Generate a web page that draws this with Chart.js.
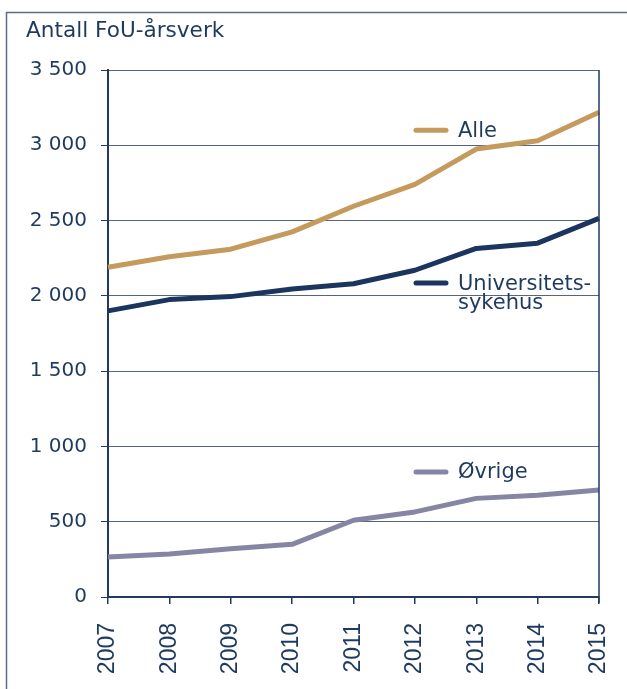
<!DOCTYPE html>
<html>
<head>
<meta charset="utf-8">
<script src="https://cdn.jsdelivr.net/npm/chart.js@4/dist/chart.umd.min.js"></script>
<style>
  html, body { margin: 0; padding: 0; background: #ffffff; }
  #wrap { width: 627px; height: 689px; position: relative; }
</style>
</head>
<body>
<div id="wrap"><canvas id="c" width="627" height="689"></canvas></div>
<script>
// FoU-årsverk per year
const years = ['2007', '2008', '2009', '2010', '2011', '2012', '2013', '2014', '2015'];
const alle = [2190, 2260, 2310, 2425, 2595, 2740, 2975, 3030, 3220];
const universitetssykehus = [1900, 1975, 1995, 2045, 2080, 2170, 2315, 2350, 2515];
const ovrige = [265, 285, 320, 350, 510, 565, 655, 675, 710];
const yTicks = [0, 500, 1000, 1500, 2000, 2500, 3000, 3500];

const TEXT = '#1f3a5f';
const AXIS = '#213a5e';
const GRID = '#56657f';
const C_ALLE = '#c49a5d';
const C_UNI = '#1c355e';
const C_OVR = '#8686a4';

// inline series labels: [lines of text, colour, value level on the y axis]
const seriesLabels = [
  [['Alle'], C_ALLE, 3100],
  [['Universitets-', 'sykehus'], C_UNI, 2085],
  [['Øvrige'], C_OVR, 830]
];

function fmt(v) {
  const s = String(v);
  return s.length > 3 ? s.slice(0, s.length - 3) + ' ' + s.slice(-3) : s;
}

const decor = {
  id: 'decor',
  beforeDraw(chart) {
    const ctx = chart.ctx;
    ctx.save();
    ctx.fillStyle = '#ffffff';
    ctx.fillRect(0, 0, chart.width, chart.height);
    // outer frame
    ctx.strokeStyle = '#5d6b84';
    ctx.lineWidth = 1.5;
    ctx.strokeRect(6.5, 12.5, 800, 800);
    // axis title
    ctx.fillStyle = TEXT;
    ctx.font = '21.6px "DejaVu Sans"';
    ctx.textBaseline = 'alphabetic';
    ctx.textAlign = 'left';
    ctx.fillText('Antall FoU-årsverk', 26, 37);
    ctx.restore();
  },
  afterDatasetsDraw(chart) {
    const ctx = chart.ctx;
    const a = chart.chartArea;
    const y = chart.scales.y;
    ctx.save();
    // right edge of the plot
    ctx.strokeStyle = AXIS;
    ctx.lineWidth = 1.5;
    ctx.beginPath();
    ctx.moveTo(a.right, a.top);
    ctx.lineTo(a.right, a.bottom + 6);
    ctx.stroke();
    // series labels
    ctx.font = '21px "DejaVu Sans"';
    ctx.textAlign = 'left';
    ctx.textBaseline = 'middle';
    seriesLabels.forEach(([lines, color, level]) => {
      const py = y.getPixelForValue(level);
      ctx.strokeStyle = color;
      ctx.lineWidth = 5;
      ctx.lineCap = 'round';
      ctx.beginPath();
      ctx.moveTo(a.right - 183, py);
      ctx.lineTo(a.right - 153, py);
      ctx.stroke();
      ctx.fillStyle = TEXT;
      lines.forEach((t, i) => ctx.fillText(t, a.right - 141, py + 1 + i * 19));
    });
    ctx.restore();
  }
};

const ds = (label, data, color) => ({
  label, data, borderColor: color, backgroundColor: color,
  borderWidth: 5, pointRadius: 0, tension: 0, borderCapStyle: 'butt', borderJoinStyle: 'round'
});

new Chart(document.getElementById('c'), {
  type: 'line',
  data: {
    labels: years,
    datasets: [
      ds('Alle', alle, C_ALLE),
      ds('Universitetssykehus', universitetssykehus, C_UNI),
      ds('Øvrige', ovrige, C_OVR)
    ]
  },
  options: {
    responsive: false,
    animation: false,
    layout: { padding: { top: 70, right: 28, left: 0, bottom: 0 } },
    plugins: { legend: { display: false }, tooltip: { enabled: false } },
    scales: {
      x: {
        offset: false,
        grid: { drawOnChartArea: false, drawTicks: true, tickLength: 7, color: AXIS, lineWidth: 1.5 },
        border: { display: true, color: AXIS, width: 2 },
        ticks: {
          minRotation: 90, maxRotation: 90, autoSkip: false, padding: 19,
          color: TEXT, font: { family: '"Liberation Sans"', size: 23 }
        },
        afterFit(s) { s.height = 92; s.paddingRight = 0; }
      },
      y: {
        min: 0, max: 3500,
        afterBuildTicks(s) { s.ticks = yTicks.map(v => ({ value: v })); },
        grid: { color: GRID, lineWidth: 1, tickLength: 7, tickColor: AXIS },
        border: { display: true, color: AXIS, width: 2 },
        ticks: {
          padding: 14, color: TEXT,
          font: { family: '"DejaVu Sans"', size: 20 },
          callback: v => fmt(v)
        },
        afterFit(s) { s.width = 108; }
      }
    }
  },
  plugins: [decor]
});
</script>
</body>
</html>
